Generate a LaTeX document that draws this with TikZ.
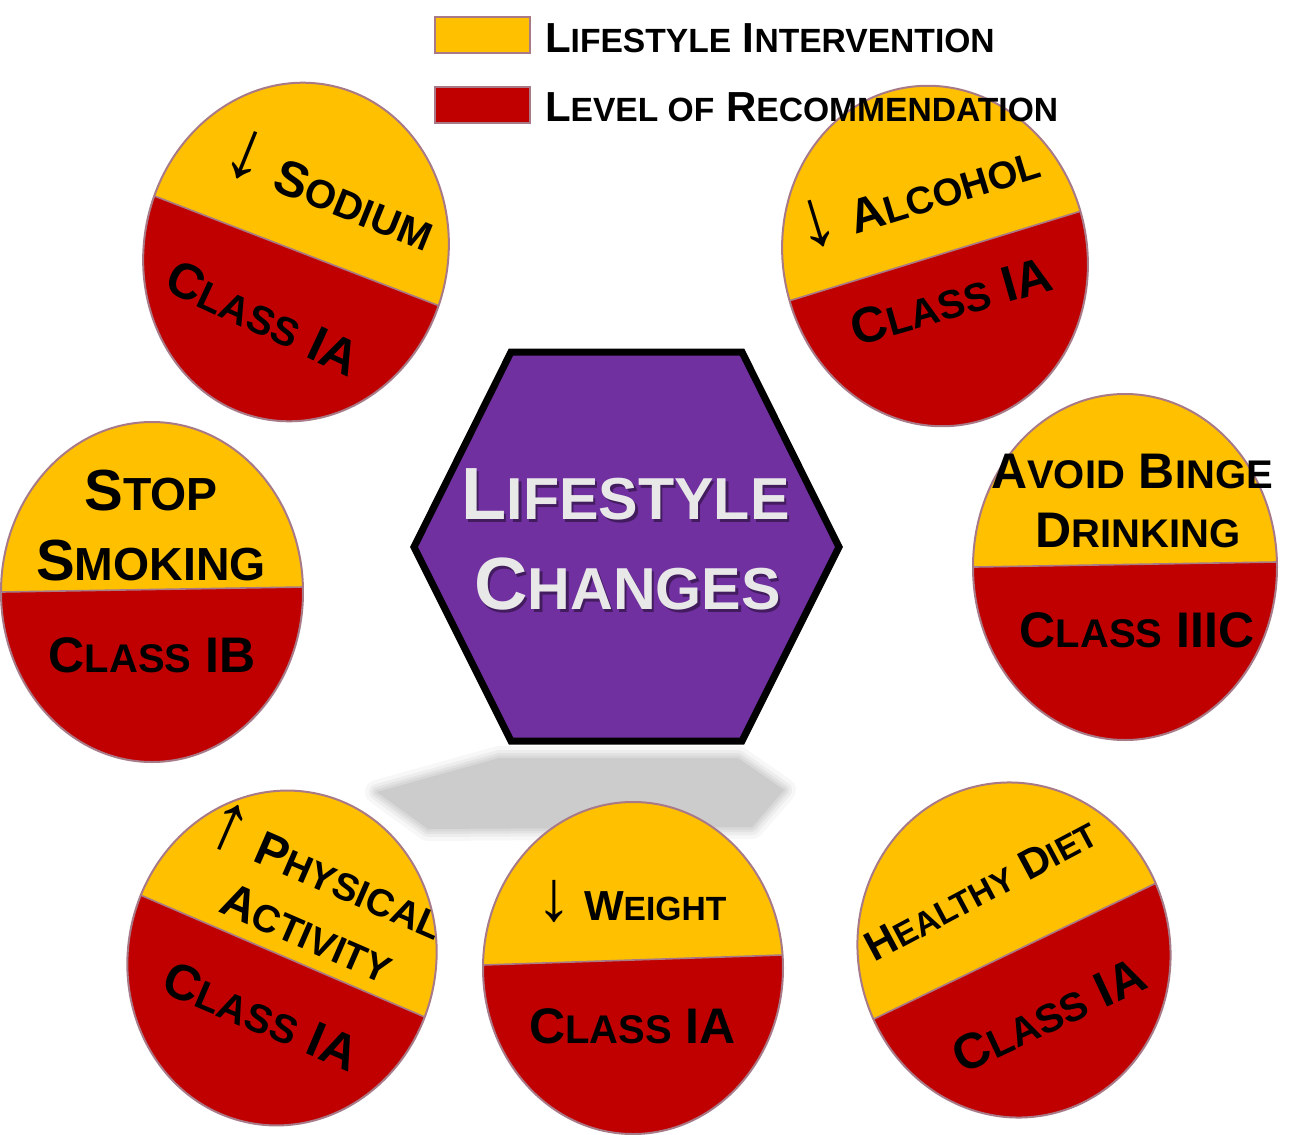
\documentclass[tikz,border=0pt]{standalone}
\usepackage{fontspec}
\setmainfont{Liberation Sans}
\usetikzlibrary{calc}
\definecolor{cyel}{HTML}{FFC000}
\definecolor{cred}{HTML}{C00000}
\definecolor{cedge}{RGB}{168,122,136}
\definecolor{chex}{HTML}{7030A0}
\definecolor{chtxt}{HTML}{E8E8E8}
\definecolor{cshad}{HTML}{CCCCCC}
\makeatletter
\newcommand\smc[1]{{\@tempdima=\f@size pt\relax\@tempdima=0.8\@tempdima\fontsize{\@tempdima}{\@tempdima}\selectfont #1}}
\newcommand\arr[1]{{\@tempdima=\f@size pt\relax\@tempdima=1.7\@tempdima\mdseries\fontsize{\@tempdima}{\@tempdima}\selectfont #1}}
\makeatother
\tikzset{
  lbl/.style={inner sep=0pt, outer sep=0pt, text=black},
  fs/.style={font={\bfseries\fontsize{#1}{#1}\selectfont}},
  discedge/.style={ellipse, draw=cedge, line width=1pt, inner sep=0pt, outer sep=0pt},
  legbox/.style={draw=cedge, line width=1.2pt, minimum width=47.5pt, minimum height=18pt, inner sep=0pt},
  chord/.style={draw=cedge, line width=0.8pt}
}
\usetikzlibrary{shapes.geometric}
% #1 name, #2 centre, #3 rx, #4 ry, #5 rotation, #6 chord end A, #7 chord end B
\newcommand\disc[7]{%
  \begin{scope}
    \clip[rotate around={#5:#2}] #2 ellipse [x radius=#3, y radius=#4];
    \fill[cred] #2 circle [radius=260];
    \path ($#6!-1!#7$) coordinate (#1p1) ($#7!-1!#6$) coordinate (#1p2);
    \fill[cyel] (#1p1) -- (#1p2) -- ([yshift=300pt]#1p2) -- ([yshift=300pt]#1p1) -- cycle;
    \draw[chord] (#1p1) -- (#1p2);
  \end{scope}
  \node[discedge, minimum width=#3pt, minimum height=#4pt, rotate=#5] (#1) at #2 {};
}
\begin{document}
\begin{tikzpicture}[x=0.5pt,y=-0.5pt]
\useasboundingbox (0,0) rectangle (1302,1135);
\fill[white] (0,0) rectangle (1302,1135);

% shadow of the hexagon
\foreach \w/\o in {12pt/0.15,8pt/0.22,5pt/0.32,2.5pt/0.45}
  \draw[cshad, line width=\w, opacity=\o, line join=round]
    (499,758) -- (738,758) -- (784,790) -- (752,827) -- (428,829) -- (377,792) -- cycle;
\fill[cshad] (499,758) -- (738,758) -- (784,790) -- (752,827) -- (428,829) -- (377,792) -- cycle;

% central hexagon
\draw[line width=3.5pt, fill=chex, line join=miter]
  (511,352) -- (742,352) -- (839,547) -- (742,741) -- (511,741) -- (414,547) -- cycle;
\node[lbl, text=black, opacity=0.4, font={\bfseries\fontsize{37}{37}\selectfont}] (hxs1) at (628,497.5) {L\smc{IFESTYLE}};
\node[lbl, text=black, opacity=0.4, font={\bfseries\fontsize{37}{37}\selectfont}] (hxs2) at (630,587.5) {C\smc{HANGES}};
\node[lbl, text=chtxt, font={\bfseries\fontsize{37}{37}\selectfont}] (hxT1) at (625.5,494.5) {L\smc{IFESTYLE}};
\node[lbl, text=chtxt, font={\bfseries\fontsize{37}{37}\selectfont}] (hxT2) at (627.5,584.5) {C\smc{HANGES}};

% discs
\coordinate (sodA) at (157,197);  \coordinate (sodB) at (437,305);
\coordinate (alcA) at (792,300);  \coordinate (alcB) at (1078,212);
\coordinate (avA) at (975,567);   \coordinate (avB) at (1276,562);
\coordinate (stA) at (2,592);     \coordinate (stB) at (303,587);
\coordinate (phA) at (145,897);   \coordinate (phB) at (420,1015);
\coordinate (wtA) at (483,965);   \coordinate (wtB) at (783,955);
\coordinate (hdA) at (878,1017);  \coordinate (hdB) at (1148,887);

\disc{sod}{(296,252)}{152}{170}{-12}{(sodA)}{(sodB)}
\disc{alc}{(935,256)}{152}{171}{12}{(alcA)}{(alcB)}
\disc{av}{(1125,567)}{152}{173}{0}{(avA)}{(avB)}
\disc{st}{(152,592)}{151}{170}{0}{(stA)}{(stB)}
\disc{ph}{(282,958)}{154}{168}{-12}{(phA)}{(phB)}
\disc{wt}{(633,968)}{150}{166}{0}{(wtA)}{(wtB)}
\disc{hd}{(1014,950)}{156}{168}{12}{(hdA)}{(hdB)}

% disc texts
\node[lbl, fs=25, rotate=-22] (sodT) at (330,189) {\arr{↓} S\smc{ODIUM}};
\node[lbl, fs=25, rotate=-25] (sodC) at (263,318) {C\smc{LASS} IA};

\node[lbl, fs=24, rotate=17] (alcT) at (917,193) {\arr{↓} A\smc{LCOHOL}};
\node[lbl, fs=25, rotate=16] (alcC) at (951,301) {C\smc{LASS} IA};

\node[lbl, fs=25] (avT1) at (1132,471.5) {A\smc{VOID} B\smc{INGE}};
\node[lbl, fs=25] (avT2) at (1138,530) {D\smc{RINKING}};
\node[lbl, fs=25] (avC) at (1137,630.5) {C\smc{LASS} IIIC};

\node[lbl, fs=29] (stT1) at (151,491) {S\smc{TOP}};
\node[lbl, fs=29] (stT2) at (151,561) {S\smc{MOKING}};
\node[lbl, fs=25] (stC) at (152,655) {C\smc{LASS} IB};

\node[lbl, fs=24, rotate=-23.5] (phT1) at (327,870) {\arr{↑} P\smc{HYSICAL}};
\node[lbl, fs=24, rotate=-23.5] (phT2) at (307,933) {A\smc{CTIVITY}};
\node[lbl, fs=25, rotate=-23] (phC) at (261,1016) {C\smc{LASS} IA};

\node[lbl, fs=21] (wtT) at (631.5,901) {\arr{↓} W\smc{EIGHT}};
\node[lbl, fs=25] (wtC) at (632.5,1026) {C\smc{LASS} IA};

\node[lbl, fs=21, rotate=28] (hdT) at (981,890) {H\smc{EALTHY} D\smc{IET}};
\node[lbl, fs=25, rotate=25] (hdC) at (1049,1015) {C\smc{LASS} IA};

% legend
\node[legbox, fill=cyel] (legY) at (482.5,35) {};
\node[legbox, fill=cred] (legR) at (482.5,105) {};
\node[lbl, fs=21, anchor=west] (legYt) at (545,38) {L\smc{IFESTYLE} I\smc{NTERVENTION}};
\node[lbl, fs=21, anchor=west] (legRt) at (545,107) {L\smc{EVEL OF} R\smc{ECOMMENDATION}};
\end{tikzpicture}
\end{document}
